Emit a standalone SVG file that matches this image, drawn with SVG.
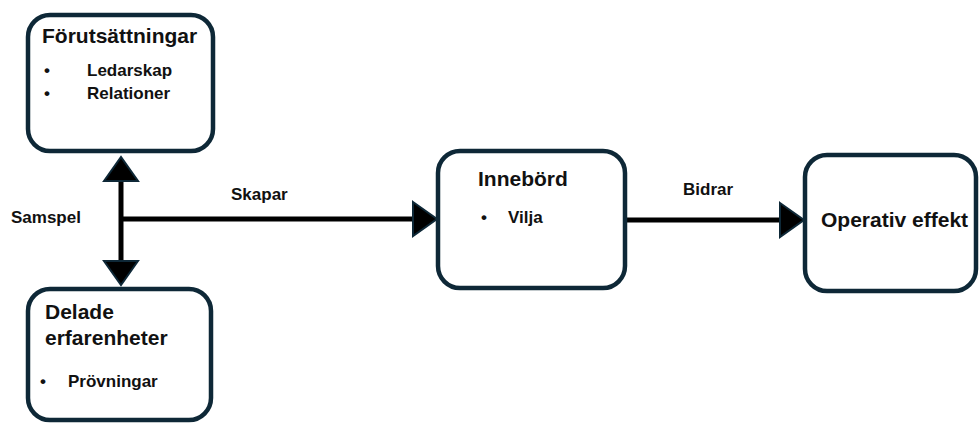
<svg xmlns="http://www.w3.org/2000/svg" width="980" height="423" viewBox="0 0 980 423">
<style>
.box{fill:#fff;stroke:#0e2837;stroke-width:4.5}
.h{font-family:"Liberation Sans",Arial,sans-serif;font-weight:bold;font-size:21px;fill:#111}
.t{font-family:"Liberation Sans",Arial,sans-serif;font-weight:bold;font-size:17px;fill:#111}
.ln{stroke:#000;stroke-width:5;fill:none}
</style>
<defs>
<marker id="ah" viewBox="-2 -20 28 40" refX="0" refY="0" markerWidth="28" markerHeight="40" markerUnits="userSpaceOnUse" orient="auto-start-reverse">
<path d="M0,-17 L24,0 L0,17 Z" fill="#000" stroke="#0e2837" stroke-width="2" stroke-linejoin="miter"/>
</marker>
</defs>
<g id="connectors">
<path class="ln" d="M121,181 L121,261" marker-start="url(#ah)" marker-end="url(#ah)"/>
<path class="ln" d="M121,219 L413,219" marker-end="url(#ah)"/>
<path class="ln" d="M627,220 L780,220" marker-end="url(#ah)"/>
<text class="t" x="11" y="223">Samspel</text>
<text class="t" x="231" y="200">Skapar</text>
<text class="t" x="683" y="195">Bidrar</text>
</g>
<g id="forutsattningar">
<rect class="box" x="28" y="15" width="185" height="136" rx="22"/>
<text class="h" x="42" y="43">Förutsättningar</text>
<text class="t" x="44" y="76">•</text>
<text class="t" x="87" y="76">Ledarskap</text>
<text class="t" x="44" y="99">•</text>
<text class="t" x="87" y="99">Relationer</text>
</g>
<g id="delade">
<rect class="box" x="28" y="289" width="183" height="131" rx="22"/>
<text class="h" x="45" y="319">Delade</text>
<text class="h" x="45" y="345">erfarenheter</text>
<text class="t" x="40" y="387">•</text>
<text class="t" x="68" y="387">Prövningar</text>
</g>
<g id="innebord">
<rect class="box" x="438" y="151" width="187" height="137" rx="22"/>
<text class="h" x="478" y="186">Innebörd</text>
<text class="t" x="481" y="223">•</text>
<text class="t" x="508" y="223">Vilja</text>
</g>
<g id="operativ">
<rect class="box" x="805" y="155" width="171" height="136" rx="22"/>
<text class="h" x="821" y="227">Operativ effekt</text>
</g>
</svg>
